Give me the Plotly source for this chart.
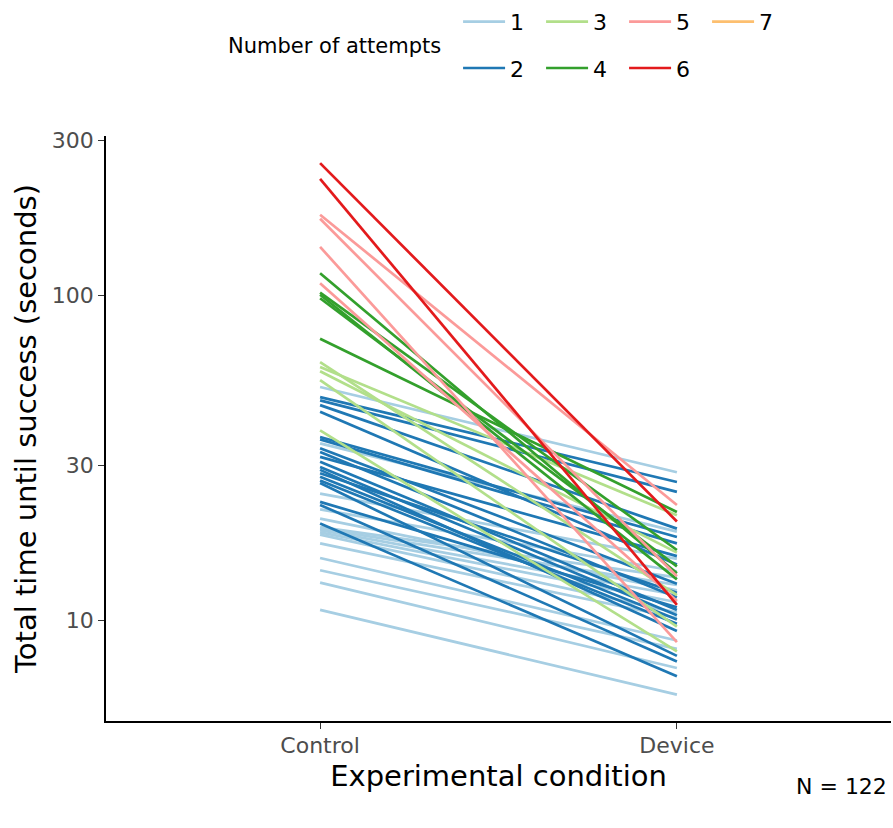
import plotly.graph_objects as go

# Paired time-to-success per participant, grouped by number of attempts
conditions = ["Control", "Device"]
attempt_levels = ["1", "2", "3", "4", "5", "6", "7"]
palette = ["#A6CEE3", "#1F78B4", "#B2DF8A", "#33A02C", "#FB9A99", "#E31A1C", "#FDBF6F"]

control_1 = [52.3, 35.1, 24.6, 22.0, 20.6, 19.4, 19.2, 19.0, 18.7, 18.4, 17.3, 15.6, 14.3, 13.1, 10.8]
device_1 = [28.6, 18.8, 15.5, 14.2, 12.4, 13.6, 12.9, 12.0, 11.4, 10.6, 10.2, 8.7, 8.2, 7.16, 5.93]

control_2 = [48.7, 47.6, 46.0, 43.9, 36.7, 36.1, 33.9, 33.0, 31.9, 30.8, 29.7, 29.1, 28.4,
             27.7, 27.0, 26.5, 23.2, 22.7, 19.9]
device_2 = [26.7, 24.9, 19.2, 14.9, 18.1, 17.3, 13.0, 11.8, 15.8, 10.8, 10.4, 9.3, 12.2,
            10.1, 9.8, 7.8, 11.0, 7.5, 6.75]

control_3 = [62.4, 60.3, 58.5, 54.9, 38.5]
device_3 = [12.0, 21.1, 16.2, 9.6, 8.05]

control_4 = [117, 102, 100.5, 98, 73.6]
device_4 = [14.0, 16.5, 13.4, 14.7, 21.6]

control_5 = [177, 172, 141, 109]
device_5 = [22.7, 13.7, 8.6, 11.5]

control_6 = [255, 228]
device_6 = [20.2, 11.2]

control_7 = []
device_7 = []

groups = [
    (control_1, device_1), (control_2, device_2), (control_3, device_3),
    (control_4, device_4), (control_5, device_5), (control_6, device_6),
    (control_7, device_7),
]

n_total = 122
y_ticks = [10, 30, 100, 300]

font_family = "DejaVu Sans"

fig = go.Figure()

# legend layout: first row holds 1,3,5,7 and second row 2,4,6
legend_of = {"1": "legend", "3": "legend", "5": "legend", "7": "legend",
             "2": "legend2", "4": "legend2", "6": "legend2"}

for level, color, (ctrl, dev) in zip(attempt_levels, palette, groups):
    xs, ys = [], []
    for c, d in zip(ctrl, dev):
        xs += [conditions[0], conditions[1], None]
        ys += [c, d, None]
    if not xs:
        # level present in the factor but without drawable pairs: keep its key
        xs, ys = [None], [None]
    fig.add_trace(go.Scatter(
        x=xs, y=ys, mode="lines", name=level,
        line=dict(color=color, width=2.7),
        legend=legend_of[level], showlegend=True, hoverinfo="skip",
    ))

legend_common = dict(
    orientation="h", xanchor="left", yanchor="middle",
    font=dict(family=font_family, size=22, color="black"),
    bgcolor="rgba(0,0,0,0)", entrywidth=26, entrywidthmode="pixels",
    itemwidth=42, traceorder="normal",
)

fig.update_layout(
    width=893, height=828,
    margin=dict(l=106, r=2, t=135, b=107),
    paper_bgcolor="white", plot_bgcolor="white",
    font=dict(family=font_family, color="black"),
    legend=dict(x=0.4485, y=1.193, **legend_common),
    legend2=dict(x=0.4485, y=1.114, **legend_common),
    xaxis=dict(
        type="category", categoryorder="array", categoryarray=conditions,
        range=[-0.6, 1.6], showgrid=False, zeroline=False,
        showline=True, linecolor="black", linewidth=1.5,
        ticks="outside", ticklen=6, tickwidth=1.2, tickcolor="#333333",
        ticklabelstandoff=-2,
        tickfont=dict(family=font_family, size=22, color="#4D4D4D"),
        title=dict(text="Experimental condition", standoff=9,
                   font=dict(family=font_family, size=29, color="black")),
    ),
    yaxis=dict(
        type="log", range=[0.692, 2.49],
        tickvals=y_ticks, ticktext=[str(v) for v in y_ticks],
        showgrid=False, zeroline=False,
        showline=True, linecolor="black", linewidth=1.5,
        ticks="outside", ticklen=6, tickwidth=1.2, tickcolor="#333333",
        tickfont=dict(family=font_family, size=22, color="#4D4D4D"),
        title=dict(text="Total time until success (seconds)", standoff=7,
                   font=dict(family=font_family, size=29, color="black")),
    ),
    annotations=[
        dict(text="Number of attempts", xref="paper", yref="paper",
             x=0.153, y=1.1536, xanchor="left", yanchor="middle", showarrow=False,
             font=dict(family=font_family, size=21, color="black")),
        dict(text=f"N = {n_total}", xref="paper", yref="paper",
             x=0.997, y=-0.1126, xanchor="right", yanchor="middle", showarrow=False,
             font=dict(family=font_family, size=22, color="black")),
    ],
)

fig.write_html("out.html")
